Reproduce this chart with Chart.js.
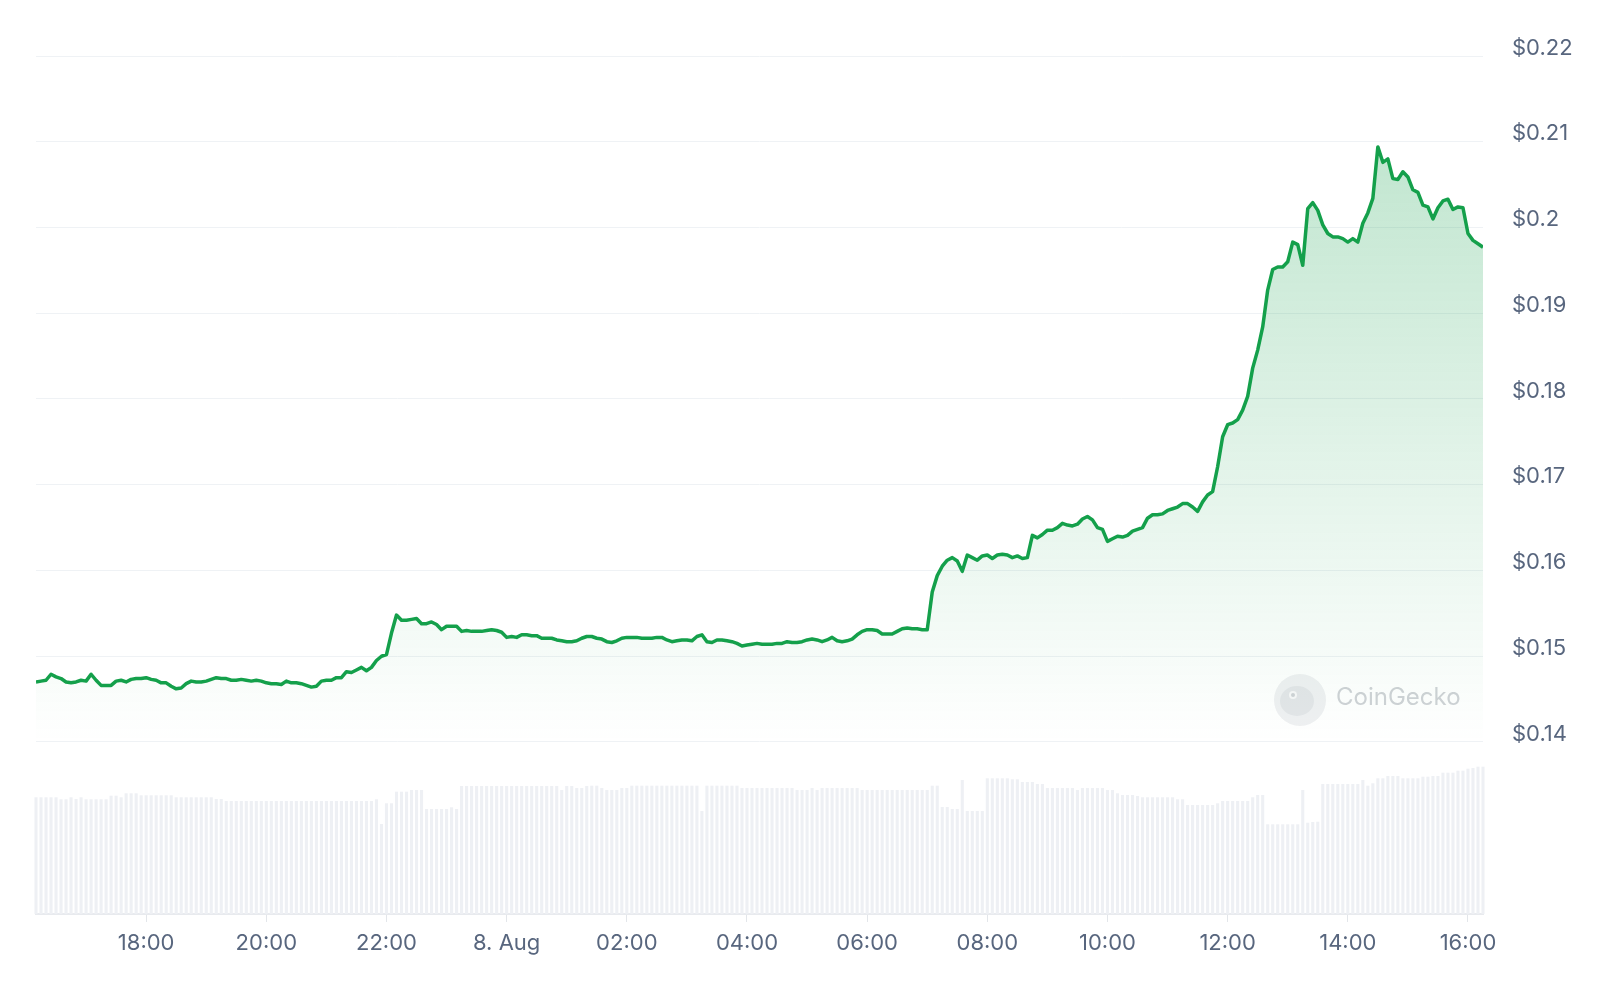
<!DOCTYPE html>
<html lang="en">
<head>
  <meta charset="UTF-8" />
  <title>Price chart 24h</title>
  <script src="https://cdn.jsdelivr.net/npm/chart.js"></script>
  <style>
    html, body {
      margin: 0;
      padding: 0;
      background: #fff;
    }
    #chart-container {
      width: 1600px;
      height: 982px;
    }
  </style>
</head>
<body>
  <div id="chart-container">
    <canvas id="priceChart" width="1600" height="982"></canvas>
  </div>

  <script>
    // 5-minute samples, 7 Aug 16:10 -> 8 Aug 16:15 (minutes counted from 7 Aug 00:00)
    const startMinute = 16 * 60 + 10;
    const stepMinutes = 5;

    const prices = [
      0.1470, 0.1471, 0.1472, 0.1479, 0.1476, 0.1474, 0.1470, 0.1469, 0.1470, 0.1472,
      0.1471, 0.1479, 0.1472, 0.1466, 0.1466, 0.1466, 0.1471, 0.1472, 0.1470, 0.1473,
      0.1474, 0.1474, 0.1475, 0.1473, 0.1472, 0.1469, 0.1469, 0.1465, 0.1462, 0.1463,
      0.1468, 0.1471, 0.1470, 0.1470, 0.1471, 0.1473, 0.1475, 0.1474, 0.1474, 0.1472,
      0.1472, 0.1473, 0.1472, 0.1471, 0.1472, 0.1471, 0.1469, 0.1468, 0.1468, 0.1467,
      0.1471, 0.1469, 0.1469, 0.1468, 0.1466, 0.1464, 0.1465, 0.1471, 0.1472, 0.1472,
      0.1475, 0.1475, 0.1482, 0.1481, 0.1484, 0.1487, 0.1483, 0.1487, 0.1495, 0.1500,
      0.1502, 0.1527, 0.1548, 0.1542, 0.1542, 0.1543, 0.1544, 0.1538, 0.1538, 0.1540,
      0.1537, 0.1531, 0.1535, 0.1535, 0.1535, 0.1529, 0.1530, 0.1529, 0.1529, 0.1529,
      0.1530, 0.1531, 0.1530, 0.1528, 0.1522, 0.1523, 0.1522, 0.1525, 0.1525, 0.1524,
      0.1524, 0.1521, 0.1521, 0.1521, 0.1519, 0.1518, 0.1517, 0.1517, 0.1518, 0.1521,
      0.1523, 0.1523, 0.1521, 0.1520, 0.1517, 0.1516, 0.1518, 0.1521, 0.1522, 0.1522,
      0.1522, 0.1521, 0.1521, 0.1521, 0.1522, 0.1522, 0.1519, 0.1517, 0.1518, 0.1519,
      0.1519, 0.1518, 0.1523, 0.1525, 0.1517, 0.1516, 0.1519, 0.1519, 0.1518, 0.1517,
      0.1515, 0.1512, 0.1513, 0.1514, 0.1515, 0.1514, 0.1514, 0.1514, 0.1515, 0.1515,
      0.1517, 0.1516, 0.1516, 0.1517, 0.1519, 0.1520, 0.1519, 0.1517, 0.1519, 0.1522,
      0.1518, 0.1517, 0.1518, 0.1520, 0.1525, 0.1529, 0.1531, 0.1531, 0.1530, 0.1526,
      0.1526, 0.1526, 0.1529, 0.1532, 0.1533, 0.1532, 0.1532, 0.1531, 0.1531, 0.1575,
      0.1594, 0.1605, 0.1612, 0.1615, 0.1611, 0.1599, 0.1618, 0.1615, 0.1612, 0.1617,
      0.1618, 0.1614, 0.1618, 0.1619, 0.1618, 0.1615, 0.1617, 0.1614, 0.1615, 0.1641,
      0.1638, 0.1642, 0.1647, 0.1647, 0.1650, 0.1655, 0.1653, 0.1652, 0.1654, 0.1660,
      0.1663, 0.1659, 0.1650, 0.1648, 0.1634, 0.1637, 0.1640, 0.1639, 0.1641, 0.1646,
      0.1648, 0.1650, 0.1661, 0.1665, 0.1665, 0.1666, 0.1670, 0.1672, 0.1674, 0.1678,
      0.1678, 0.1674, 0.1669, 0.1680, 0.1688, 0.1692, 0.1721, 0.1756, 0.1770, 0.1772,
      0.1776, 0.1787, 0.1803, 0.1836, 0.1857, 0.1884, 0.1927, 0.1951, 0.1954, 0.1954,
      0.1960, 0.1983, 0.1980, 0.1956, 0.2022, 0.2029, 0.2020, 0.2003, 0.1993, 0.1989,
      0.1989, 0.1987, 0.1983, 0.1987, 0.1983, 0.2005, 0.2017, 0.2034, 0.2094, 0.2076,
      0.2080, 0.2057, 0.2056, 0.2065, 0.2059, 0.2044, 0.2041, 0.2026, 0.2024, 0.2010,
      0.2023, 0.2031, 0.2033, 0.2021, 0.2024, 0.2023, 0.1993, 0.1985, 0.1981, 0.1977
    ];

    // rolling 24h volume, $M
    const volumes = [
      116.7, 116.7, 116.7, 116.7, 116.7, 114.7, 114.7, 116.7, 115.0, 116.7,
      114.7, 114.7, 114.7, 114.7, 114.7, 118.3, 118.3, 116.7, 120.7, 120.7,
      120.7, 118.7, 118.7, 118.7, 118.7, 118.7, 118.7, 118.7, 116.7, 116.7,
      116.7, 116.7, 116.7, 116.7, 116.7, 116.7, 115.0, 115.0, 113.0, 113.0,
      113.0, 113.0, 113.0, 113.0, 113.0, 113.0, 113.0, 113.0, 113.0, 113.0,
      113.0, 113.0, 113.0, 113.0, 113.0, 113.0, 113.0, 113.0, 113.0, 113.0,
      113.0, 113.0, 113.0, 113.0, 113.0, 113.0, 113.0, 113.0, 114.7, 90.0,
      110.7, 110.7, 122.3, 122.3, 122.3, 124.0, 124.0, 124.0, 105.0, 105.0,
      105.0, 105.0, 105.0, 106.7, 105.0, 128.0, 128.0, 128.0, 128.0, 128.0,
      128.0, 128.0, 128.0, 128.0, 128.0, 128.0, 128.0, 128.0, 128.0, 128.0,
      128.0, 128.0, 128.0, 128.0, 128.0, 124.0, 128.0, 128.0, 126.0, 126.0,
      128.0, 128.3, 128.3, 126.0, 124.0, 124.0, 124.0, 126.0, 126.0, 128.3,
      128.3, 128.3, 128.3, 128.3, 128.3, 128.3, 128.3, 128.3, 128.3, 128.3,
      128.3, 128.3, 128.3, 103.0, 128.3, 128.3, 128.3, 128.3, 128.3, 128.3,
      128.3, 126.0, 126.0, 126.0, 126.0, 126.0, 126.0, 126.0, 126.0, 126.0,
      126.0, 126.0, 124.0, 124.0, 124.0, 126.0, 124.0, 126.0, 126.0, 126.0,
      126.0, 126.0, 126.0, 126.0, 126.0, 124.0, 124.0, 124.0, 124.0, 124.0,
      124.0, 124.0, 124.0, 124.0, 124.0, 124.0, 124.0, 124.0, 124.0, 128.3,
      128.3, 107.0, 107.0, 105.0, 105.0, 134.0, 103.0, 103.0, 103.0, 103.0,
      135.7, 135.7, 135.7, 135.7, 135.7, 134.7, 134.7, 132.0, 132.0, 132.0,
      130.0, 130.0, 126.0, 126.0, 126.0, 126.0, 126.0, 126.0, 124.0, 126.0,
      126.0, 126.0, 126.0, 126.0, 124.0, 124.0, 120.7, 119.0, 119.0, 119.0,
      118.0, 116.7, 116.7, 116.7, 116.7, 116.7, 116.7, 116.7, 114.7, 114.7,
      109.0, 109.0, 109.0, 109.0, 109.0, 109.0, 110.7, 113.0, 113.0, 113.0,
      113.0, 113.0, 113.0, 116.7, 119.0, 119.0, 89.7, 89.7, 89.7, 89.7,
      89.7, 89.7, 89.7, 124.0, 91.3, 92.0, 92.3, 130.0, 130.0, 130.0,
      130.0, 130.0, 130.0, 130.0, 130.0, 134.0, 128.3, 130.7, 135.7, 135.7,
      138.0, 138.0, 138.0, 135.7, 135.7, 135.7, 135.7, 137.3, 137.3, 138.0,
      138.0, 141.3, 141.3, 141.3, 143.3, 143.3, 145.3, 146.0, 147.3, 147.3
    ];

    const tickLabels = ["18:00", "20:00", "22:00", "8. Aug", "02:00", "04:00",
                        "06:00", "08:00", "10:00", "12:00", "14:00", "16:00"];
    const tickTimes = [1080, 1200, 1320, 1440, 1560, 1680, 1800, 1920, 2040, 2160, 2280, 2400];
    const priceTicks = [0.14, 0.15, 0.16, 0.17, 0.18, 0.19, 0.20, 0.21, 0.22];

    const priceMin = 0.11994;   // leaves room under $0.14 for the volume bars
    const priceMax = 0.22;
    const fillBase = 0.14;
    const volumeShare = 0.1717; // tallest bar / plot height

    const green = '#14a04b';
    const labelColor = '#58667e';

    const timeOf = i => startMinute + i * stepMinutes;
    const priceData = prices.map((p, i) => ({ x: timeOf(i), y: p }));
    const volumeData = volumes.map((v, i) => ({ x: timeOf(i), y: v }));

    const watermark = {
      id: 'watermark',
      beforeDatasetsDraw(chart) {
        const { ctx, chartArea } = chart;
        const baseY = chart.scales.y.getPixelForValue(fillBase);
        const cx = chartArea.right - 183;
        const cy = baseY - 42;
        ctx.save();
        ctx.fillStyle = '#eff0f2';
        ctx.beginPath();
        ctx.arc(cx, cy, 26, 0, Math.PI * 2);
        ctx.fill();
        ctx.fillStyle = '#e3e5e8';
        ctx.beginPath();
        ctx.ellipse(cx - 3, cy + 1, 17, 15, 0, 0, Math.PI * 2);
        ctx.fill();
        ctx.fillStyle = '#f7f7f8';
        ctx.beginPath();
        ctx.arc(cx - 7, cy - 5, 4, 0, Math.PI * 2);
        ctx.fill();
        ctx.fillStyle = '#cfd2d6';
        ctx.beginPath();
        ctx.arc(cx - 7, cy - 5, 2, 0, Math.PI * 2);
        ctx.fill();
        ctx.font = '24px Inter, "Noto Sans", sans-serif';
        ctx.fillStyle = '#cfd2d6';
        ctx.textBaseline = 'middle';
        ctx.fillText('CoinGecko', cx + 36, cy - 2);
        ctx.restore();
      }
    };

    Chart.defaults.font.family = 'Inter, "Noto Sans", sans-serif';
    Chart.defaults.font.size = 22;
    Chart.defaults.color = labelColor;

    const ctx = document.getElementById('priceChart').getContext('2d');
    new Chart(ctx, {
      data: {
        datasets: [
          {
            type: 'line',
            data: priceData,
            yAxisID: 'y',
            borderColor: green,
            borderWidth: 3.5,
            borderJoinStyle: 'round',
            pointRadius: 0,
            tension: 0,
            fill: { value: fillBase },
            backgroundColor: (c) => {
              const chart = c.chart;
              const area = chart.chartArea;
              if (!area) return 'rgba(20,160,75,0.1)';
              const g = chart.ctx.createLinearGradient(0, area.top, 0, chart.scales.y.getPixelForValue(fillBase));
              g.addColorStop(0, 'rgba(20,160,75,0.30)');
              g.addColorStop(1, 'rgba(20,160,75,0.0)');
              return g;
            },
            order: 0
          },
          {
            type: 'bar',
            data: volumeData,
            yAxisID: 'vol',
            backgroundColor: '#eef0f4',
            barPercentage: 0.62,
            categoryPercentage: 1,
            clip: false,
            order: 1
          }
        ]
      },
      options: {
        responsive: false,
        animation: false,
        layout: { padding: { left: 36, top: 56, right: 0, bottom: 0 } },
        plugins: {
          legend: { display: false },
          tooltip: { enabled: false }
        },
        scales: {
          x: {
            type: 'linear',
            offset: false,
            min: timeOf(0),
            max: timeOf(prices.length - 1),
            afterBuildTicks: s => { s.ticks = tickTimes.map(v => ({ value: v })); },
            afterFit: s => { s.height = 68; },
            ticks: {
              autoSkip: false,
              maxRotation: 0,
              padding: 8,
              callback: v => tickLabels[tickTimes.indexOf(v)]
            },
            grid: {
              offset: false,
              drawOnChartArea: false,
              drawTicks: true,
              tickLength: 8,
              color: '#e3e6ea'
            },
            border: { display: true, color: '#e8eaee', width: 2 }
          },
          y: {
            position: 'right',
            min: priceMin,
            max: priceMax,
            afterBuildTicks: s => { s.ticks = priceTicks.map(v => ({ value: v })); },
            afterFit: s => { s.width = 117; },
            ticks: {
              padding: 29,
              labelOffset: -8,
              callback: v => '$' + Number(v.toFixed(2))
            },
            grid: { color: '#eff2f5', drawTicks: false },
            border: { display: false }
          },
          vol: {
            display: false,
            min: 0,
            max: Math.max(...volumes) / volumeShare
          }
        }
      },
      plugins: [watermark]
    });
  </script>
</body>
</html>
